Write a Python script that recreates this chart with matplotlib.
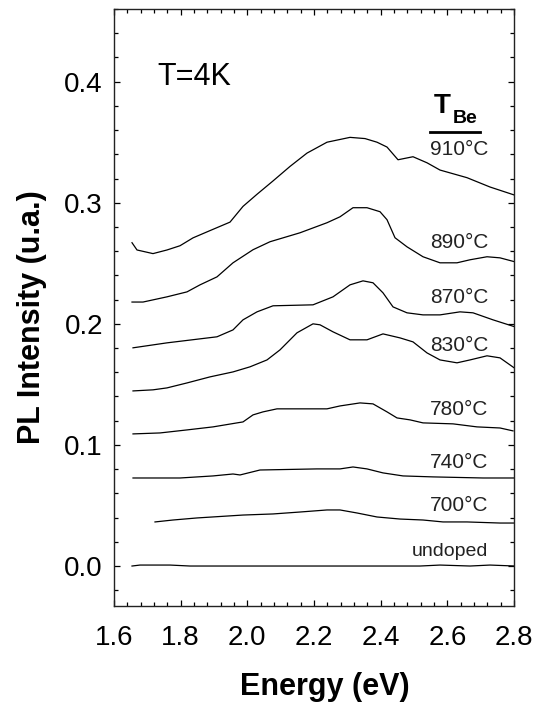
import matplotlib
matplotlib.use("Agg")
import matplotlib.pyplot as plt
from matplotlib.ticker import MultipleLocator, FormatStrFormatter

plt.rcParams['font.family'] = ['Liberation Sans', 'DejaVu Sans']

#------------------------------------------------------------------------------
# PL spectra (energy in eV, intensity in u.a.)
#------------------------------------------------------------------------------
e_910 = [1.654, 1.669, 1.693, 1.717, 1.759, 1.798, 1.837, 1.888, 1.948, 1.987, 2.029, 2.077,
         2.128, 2.179, 2.239, 2.308, 2.353, 2.389, 2.419, 2.452, 2.497, 2.539, 2.578, 2.659,
         2.728, 2.803]
i_910 = [0.267, 0.261, 0.2595, 0.258, 0.261, 0.2645, 0.271, 0.277, 0.284, 0.297, 0.307, 0.318,
         0.330, 0.341, 0.350, 0.354, 0.353, 0.350, 0.346, 0.3355, 0.338, 0.333, 0.327, 0.3207,
         0.313, 0.3062]

e_890 = [1.654, 1.687, 1.759, 1.819, 1.858, 1.909, 1.957, 2.017, 2.068, 2.158, 2.239, 2.278,
         2.317, 2.359, 2.398, 2.419, 2.443, 2.479, 2.527, 2.578, 2.629, 2.668, 2.719, 2.758,
         2.803]
i_890 = [0.218, 0.218, 0.2223, 0.2264, 0.2322, 0.2388, 0.2504, 0.2612, 0.2678, 0.2752, 0.2835,
         0.2884, 0.2959, 0.2959, 0.2926, 0.286, 0.2711, 0.2636, 0.2554, 0.2504, 0.2504, 0.2529,
         0.2554, 0.2545, 0.2512]

e_870 = [1.657, 1.759, 1.858, 1.909, 1.957, 1.987, 2.029, 2.077, 2.197, 2.257, 2.308, 2.347,
         2.377, 2.407, 2.437, 2.479, 2.527, 2.578, 2.638, 2.677, 2.737, 2.803]
i_870 = [0.1802, 0.1843, 0.1876, 0.1893, 0.195, 0.2033, 0.2099, 0.2149, 0.2157, 0.2223, 0.2322,
         0.2355, 0.2339, 0.2256, 0.214, 0.2091, 0.2074, 0.2074, 0.2099, 0.2091, 0.2033, 0.1975]

e_830 = [1.657, 1.717, 1.759, 1.819, 1.888, 1.957, 2.008, 2.059, 2.098, 2.149, 2.197, 2.218,
         2.257, 2.308, 2.359, 2.407, 2.458, 2.497, 2.539, 2.578, 2.629, 2.668, 2.719, 2.758,
         2.809]
i_830 = [0.1446, 0.1455, 0.1471, 0.1512, 0.1562, 0.1603, 0.1645, 0.1702, 0.1785, 0.1926, 0.2,
         0.1992, 0.1934, 0.1868, 0.1868, 0.1917, 0.1884, 0.1851, 0.176, 0.1702, 0.1678, 0.1702,
         0.1736, 0.1719, 0.162]

e_780 = [1.657, 1.738, 1.819, 1.897, 1.969, 1.987, 2.017, 2.047, 2.089, 2.239, 2.278, 2.338,
         2.377, 2.419, 2.449, 2.488, 2.527, 2.617, 2.689, 2.758, 2.797]
i_780 = [0.1091, 0.1099, 0.1124, 0.1149, 0.1182, 0.119, 0.1248, 0.1273, 0.1298, 0.1298, 0.1322,
         0.1347, 0.1339, 0.1273, 0.1223, 0.1207, 0.1182, 0.1174, 0.1149, 0.114, 0.1116]

e_740 = [1.657, 1.798, 1.897, 1.957, 1.978, 2.038, 2.209, 2.278, 2.317, 2.359, 2.407, 2.467,
         2.557, 2.707, 2.803]
i_740 = [0.0727, 0.0727, 0.0744, 0.076, 0.0752, 0.0793, 0.0802, 0.0802, 0.0818, 0.0802, 0.0769,
         0.0744, 0.0736, 0.0727, 0.0727]

e_700 = [1.723, 1.777, 1.849, 1.987, 2.077, 2.158, 2.239, 2.278, 2.329, 2.389, 2.458, 2.527,
         2.587, 2.659, 2.758, 2.803]
i_700 = [0.0364, 0.038, 0.0397, 0.0421, 0.043, 0.0446, 0.0463, 0.0463, 0.0438, 0.0405, 0.0388,
         0.038, 0.0364, 0.0364, 0.0355, 0.0355]

e_und = [1.654, 1.678, 1.768, 1.828, 1.948, 2.158, 2.398, 2.518, 2.578, 2.668, 2.728, 2.803]
i_und = [0.0, 0.0008, 0.0008, 0.0, 0.0, 0.0, 0.0, 0.0, 0.0008, 0.0, 0.0008, 0.0]

spectra = [(e_910, i_910), (e_890, i_890), (e_870, i_870), (e_830, i_830),
           (e_780, i_780), (e_740, i_740), (e_700, i_700), (e_und, i_und)]

labels = ['910°C', '890°C', '870°C', '830°C', '780°C', '740°C', '700°C', 'undoped']
label_y = [0.3397, 0.2628, 0.2174, 0.1777, 0.1248, 0.081, 0.0455, 0.0083]

#------------------------------------------------------------------------------
# Figure
#------------------------------------------------------------------------------
fig = plt.figure(figsize=(5.38, 7.09), dpi=100)
ax = fig.add_axes([0.2119, 0.1453, 0.7435, 0.842])

for e, i in spectra:
  ax.plot(e, i, color='k', lw=0.9)

for lab, y in zip(labels, label_y):
  size = 14 if lab == 'undoped' else 15
  ax.text(2.722, y, lab, ha='right', va='baseline', fontsize=size, color='#222222')

ax.text(1.729, 0.397, 'T=4K', ha='left', va='baseline', fontsize=22)
ax.text(2.56, 0.374, 'T', ha='left', va='baseline', fontsize=20, fontweight='bold')
ax.text(2.617, 0.366, 'Be', ha='left', va='baseline', fontsize=14, fontweight='bold')
ax.plot([2.548, 2.698], [0.3587, 0.3587], color='k', lw=2)

ax.set_xlim(1.6, 2.8)
ax.set_ylim(-0.033, 0.46)
ax.xaxis.set_major_locator(MultipleLocator(0.2))
ax.xaxis.set_minor_locator(MultipleLocator(0.04))
ax.yaxis.set_major_locator(MultipleLocator(0.1))
ax.yaxis.set_minor_locator(MultipleLocator(0.02))
ax.xaxis.set_major_formatter(FormatStrFormatter('%.1f'))
ax.yaxis.set_major_formatter(FormatStrFormatter('%.1f'))

ax.tick_params(which='both', direction='in', top=True, right=True, width=0.9, labelsize=20)
ax.tick_params(which='major', length=4)
ax.tick_params(which='minor', length=3)
ax.tick_params(axis='x', pad=14)
ax.tick_params(axis='y', pad=8)
for sp in ax.spines.values():
  sp.set_linewidth(1.0)
  sp.set_color('#222222')

fig.text(325/538., 1-695/709., 'Energy (eV)', ha='center', va='baseline', fontsize=22, fontweight='bold')
fig.text(40/538., 1-317/709., 'PL Intensity (u.a.)', ha='center', va='baseline', rotation=90,
         rotation_mode='anchor', fontsize=22, fontweight='bold')

fig.savefig('out.png', dpi=100)
